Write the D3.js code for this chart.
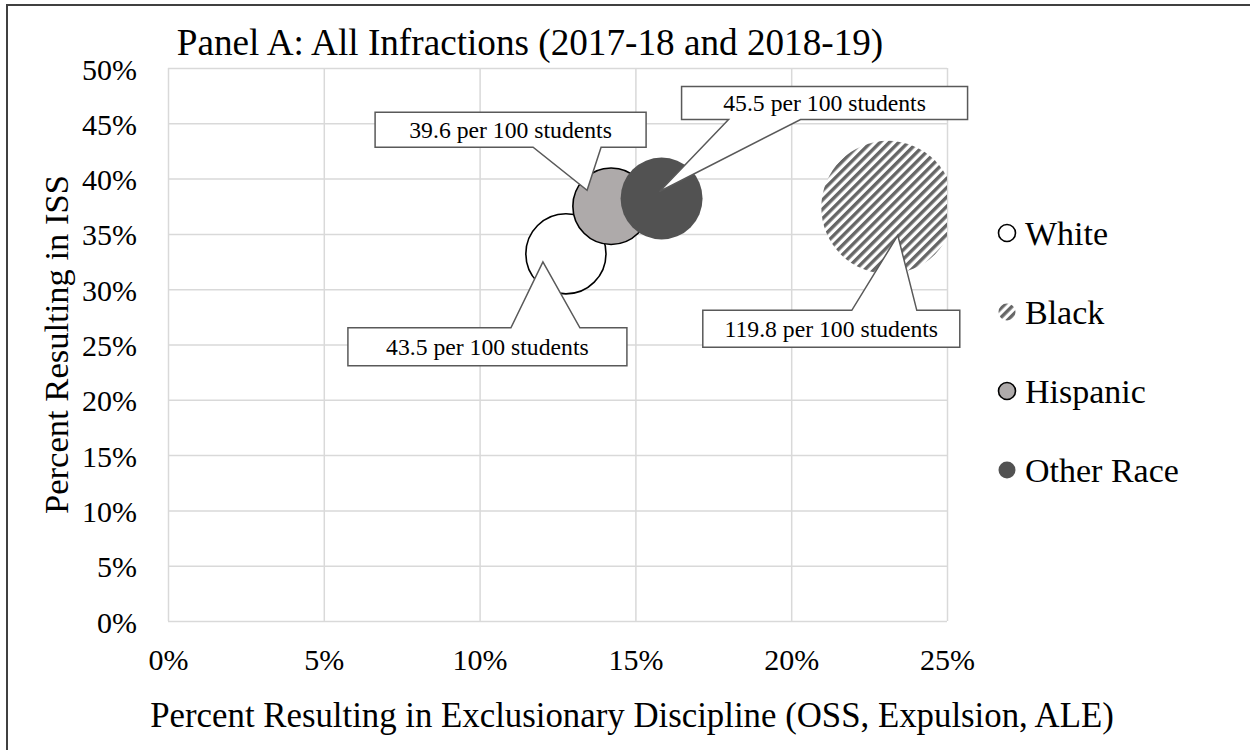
<!DOCTYPE html>
<html>
<head>
<meta charset="utf-8">
<script src="https://d3js.org/d3.v7.min.js"></script>
<style>
  body { margin: 0; background: #fff; }
  text { font-family: "Liberation Serif", "Times New Roman", serif; fill: #000; }
  .tick line { stroke: #d9d9d9; stroke-width: 1.5px; }
  .tick text { font-size: 30px; }
</style>
</head>
<body>
<div id="chart"></div>
<script>
// ---- data ----
var groups    = ["White", "Black", "Hispanic", "Other Race"];
var exclPct   = [12.77, 23.1, 14.22, 15.84];   // x: % resulting in exclusionary discipline
var issPct    = [33.2, 37.4, 37.5, 38.2];      // y: % resulting in ISS
var per100    = [43.5, 119.8, 39.6, 45.5];     // bubble size: infractions per 100 students
var xTicks    = [0, 5, 10, 15, 20, 25];
var yTicks    = [0, 5, 10, 15, 20, 25, 30, 35, 40, 45, 50];

// callout layout, offsets from the bubble centre in px
// box: [left, top, right, bottom], base: wedge base [from, to], tip: [dx, dy]
var callouts = [
  { box: [-218, 74, 61, 112],   base: [-55, 14],   tip: [-23, 8],   side: "top" },
  { box: [-185, 103, 72, 140],  base: [-36, 29],   tip: [10, 28],   side: "top" },
  { box: [-236, -94, 35, -59],  base: [-78, -10],  tip: [-24, -16], side: "bottom" },
  { box: [20, -112, 306, -79],  base: [67, 139],   tip: [-2, -7],   side: "bottom" }
];

var W = 1250, H = 750;
var margin = { left: 168, top: 68, right: 303, bottom: 129 };
var plotW = W - margin.left - margin.right;   // 779
var plotH = H - margin.top - margin.bottom;   // 553

var svg = d3.select("#chart").append("svg")
    .attr("width", W)
    .attr("height", H);

// hatch for the Black series
var defs = svg.append("defs");
var pat = defs.append("pattern")
    .attr("id", "hatch")
    .attr("patternUnits", "userSpaceOnUse")
    .attr("width", 6.6)
    .attr("height", 6.6)
    .attr("patternTransform", "rotate(45)");
pat.append("rect").attr("width", 6.6).attr("height", 6.6).attr("fill", "#fff");
pat.append("line")
    .attr("x1", 1.7).attr("y1", 0).attr("x2", 1.7).attr("y2", 6.6)
    .attr("stroke", "#666").attr("stroke-width", 3.4);

defs.append("clipPath").attr("id", "plotclip")
  .append("rect").attr("width", plotW).attr("height", plotH);

var fills   = ["#ffffff", "url(#hatch)", "#aeaaaa", "#525252"];
var strokes = ["#000", "none", "#000", "none"];

// outer frame
svg.append("rect")
    .attr("x", 7).attr("y", 5)
    .attr("width", W + 20).attr("height", H + 20)
    .attr("fill", "none")
    .attr("stroke", "#404040")
    .attr("stroke-width", 2);

var g = svg.append("g")
    .attr("transform", "translate(" + margin.left + "," + margin.top + ")");

var x = d3.scaleLinear().domain([0, 25]).range([0, plotW]);
var y = d3.scaleLinear().domain([0, 50]).range([plotH, 0]);
var r = d3.scaleSqrt().domain([0, 119.8]).range([0, 66.5]);

// axes + gridlines
var xAxis = g.append("g")
    .attr("transform", "translate(0," + plotH + ")")
    .call(d3.axisBottom(x).tickValues(xTicks).tickSize(-plotH).tickFormat(function(d) { return d + "%"; }));
xAxis.select(".domain").remove();
xAxis.selectAll(".tick text").attr("y", 49).attr("dy", null);

var yAxis = g.append("g")
    .call(d3.axisLeft(y).tickValues(yTicks).tickSize(-plotW).tickFormat(function(d) { return d + "%"; }));
yAxis.select(".domain").remove();
yAxis.selectAll(".tick text").attr("x", -31).attr("dy", 11);

// bubbles
var rows = groups.map(function(name, i) {
  return { name: name, x: exclPct[i], y: issPct[i], size: per100[i], i: i };
});

var bubbles = g.append("g").attr("clip-path", "url(#plotclip)");
// draw order as in the original: White, Black, Hispanic, Other Race
bubbles.selectAll("circle")
  .data(rows)
  .enter().append("circle")
    .attr("cx", function(d) { return x(d.x); })
    .attr("cy", function(d) { return y(d.y); })
    .attr("r", function(d) { return r(d.size); })
    .attr("fill", function(d) { return fills[d.i]; })
    .attr("stroke", function(d) { return strokes[d.i]; })
    .attr("stroke-width", 1.6);

// callout data labels
function calloutPath(cx, cy, c) {
  var x0 = cx + c.box[0], y0 = cy + c.box[1], x1 = cx + c.box[2], y1 = cy + c.box[3];
  var b0 = cx + c.base[0], b1 = cx + c.base[1];
  var tx = cx + c.tip[0], ty = cy + c.tip[1];
  var p = d3.path();
  if (c.side === "top") {
    p.moveTo(x0, y0); p.lineTo(b0, y0); p.lineTo(tx, ty); p.lineTo(b1, y0);
    p.lineTo(x1, y0); p.lineTo(x1, y1); p.lineTo(x0, y1); p.closePath();
  } else {
    p.moveTo(x0, y0); p.lineTo(x1, y0); p.lineTo(x1, y1); p.lineTo(b1, y1);
    p.lineTo(tx, ty); p.lineTo(b0, y1); p.lineTo(x0, y1); p.closePath();
  }
  return p.toString();
}

var labels = g.append("g");
rows.forEach(function(d) {
  var c = callouts[d.i];
  var cx = x(d.x), cy = y(d.y);
  labels.append("path")
      .attr("d", calloutPath(cx, cy, c))
      .attr("fill", "#fff")
      .attr("stroke", "#595959")
      .attr("stroke-width", 1.5);
  labels.append("text")
      .attr("x", cx + (c.box[0] + c.box[2]) / 2)
      .attr("y", cy + (c.box[1] + c.box[3]) / 2 + 8)
      .attr("text-anchor", "middle")
      .style("font-size", "23.7px")
      .text(d3.format(".1f")(d.size) + " per 100 students");
});

// legend
var legendY = d3.scalePoint().domain(groups).range([233, 470]);
var legend = svg.append("g");
groups.forEach(function(name, i) {
  legend.append("circle")
      .attr("cx", 1007)
      .attr("cy", legendY(name))
      .attr("r", 8.5)
      .attr("fill", fills[i])
      .attr("stroke", strokes[i])
      .attr("stroke-width", 1.6);
  legend.append("text")
      .attr("x", 1025)
      .attr("y", legendY(name) + 12)
      .style("font-size", "34px")
      .text(name);
});

// titles
svg.append("text")
    .attr("x", 530).attr("y", 55)
    .attr("text-anchor", "middle")
    .style("font-size", "37.2px")
    .text("Panel A: All Infractions (2017-18 and 2018-19)");

svg.append("text")
    .attr("x", 632).attr("y", 727)
    .attr("text-anchor", "middle")
    .style("font-size", "34.8px")
    .text("Percent Resulting in Exclusionary Discipline (OSS, Expulsion, ALE)");

svg.append("text")
    .attr("transform", "translate(68," + (margin.top + plotH / 2) + ") rotate(-90)")
    .attr("text-anchor", "middle")
    .style("font-size", "34.6px")
    .text("Percent Resulting in ISS");
</script>
</body>
</html>
